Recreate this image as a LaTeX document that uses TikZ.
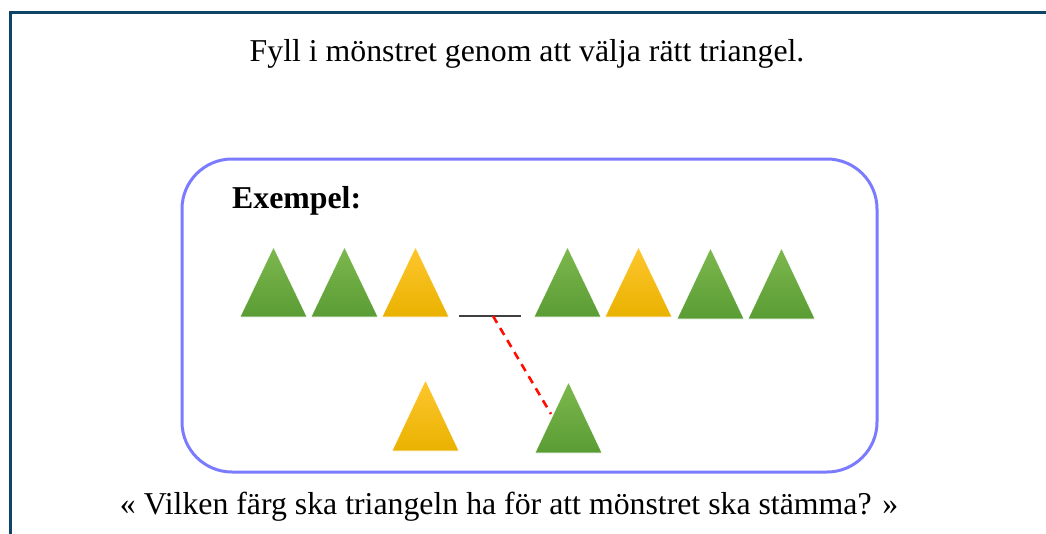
\documentclass[tikz,border=0pt]{standalone}
\usepackage{fontspec}
\setmainfont{Liberation Serif}
\definecolor{frameblue}{HTML}{0E4466}
\definecolor{boxblue}{HTML}{7B7BFF}
\definecolor{gtop}{HTML}{7DB84E}
\definecolor{gbot}{HTML}{5A9C34}
\definecolor{ytop}{HTML}{FFC62E}
\definecolor{ybot}{HTML}{E9B200}
\tikzset{
  greentri/.style={top color=gtop, bottom color=gbot, draw=white, line width=0.6pt},
  yellowtri/.style={top color=ytop, bottom color=ybot, draw=white, line width=0.6pt},
  title/.style={font=\fontsize{31.8}{36}\selectfont, anchor=center, inner sep=0pt},
}
% triangle: #1 name, #2 centre x, #3 apex y, #4 base y, #5 style
\newcommand{\tri}[5]{%
  \shade[#5] (#2-33.5,#4) -- (#2,#3) -- (#2+33.5,#4) -- cycle;
  \coordinate (#1-apex) at (#2,#3);
  \coordinate (#1-base) at (#2,#4);
  \coordinate (#1-left) at (#2-33.5,#4);
}
\begin{document}
\begin{tikzpicture}[x=1pt,y=-1pt]
\useasboundingbox (0,0) rectangle (1046,533);
% outer frame (left and top edges)
\draw[frameblue, line width=3pt] (10,540) -- (10,12.5) -- (1050,12.5);
\node[title] (head) at (527,54) {Fyll i mönstret genom att välja rätt triangel.};
% example box
\draw[boxblue, line width=3pt, rounded corners=50pt] (182,159) rectangle (877,472);
\node[font=\fontsize{31.8}{36}\selectfont\bfseries, anchor=west, inner sep=0pt] (ex) at (232,201) {Exempel:};
% pattern row
\tri{t1}{273.5}{247}{317}{greentri}
\tri{t2}{344.5}{247}{317}{greentri}
\tri{t3}{415.5}{247}{317}{yellowtri}
\tri{t4}{567.5}{247}{317}{greentri}
\tri{t5}{638.5}{247}{317}{yellowtri}
\tri{t6}{710.5}{248}{319}{greentri}
\tri{t7}{781.5}{248}{319}{greentri}
% gap to be filled
\coordinate (gapL) at (459,316);
\coordinate (gapR) at (521,316);
\coordinate (gapM) at (493,316);
\draw[black!75, line width=2.2pt] (gapL) -- (gapR);
% answer choices
\tri{c1}{425.5}{380}{451}{yellowtri}
\tri{c2}{568.5}{382}{453}{greentri}
\coordinate (pick) at (551,414);
\draw[red!90!orange, line width=2.6pt, dash pattern=on 8pt off 6pt] (gapM) -- (pick);
\node[title] (question) at (509,507) {« Vilken färg ska triangeln ha för att mönstret ska stämma? »};
\end{tikzpicture}
\end{document}
